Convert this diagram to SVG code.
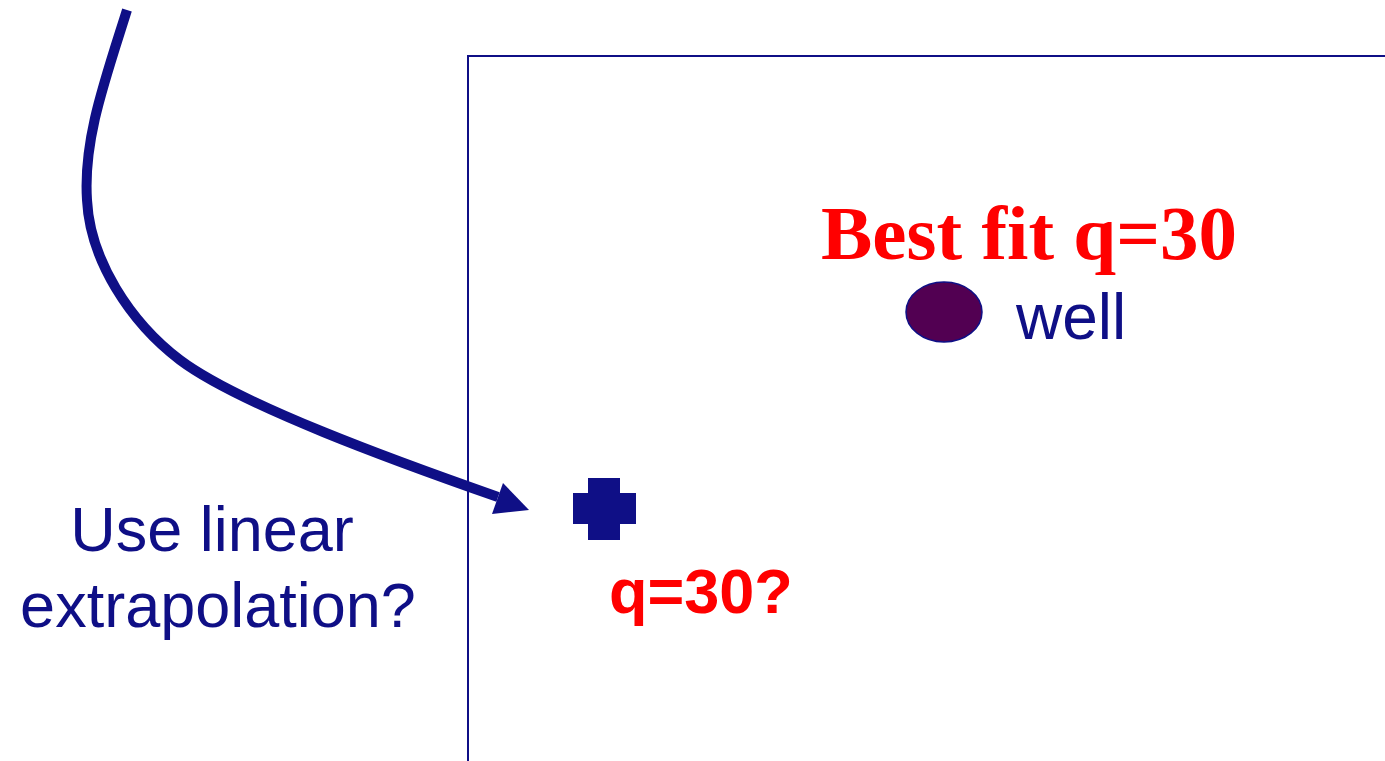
<svg xmlns="http://www.w3.org/2000/svg" width="1385" height="761" viewBox="0 0 1385 761">
<style>
.navy{fill:#0f0f86}
.sans{font-family:"Liberation Sans",Arial,sans-serif}
.serif{font-family:"Liberation Serif","Times New Roman",serif}
</style>
<rect width="1385" height="761" fill="#ffffff"/>
<g id="frame">
<path d="M468,761 V56 H1385" fill="none" stroke="#0f0f86" stroke-width="2"/>
</g>
<g id="connectors">
<path d="M127,10 C105,80 83,140 87,200 C90,260 130,322 180,360 C240,405 398,462 498,497" fill="none" stroke="#0f0f86" stroke-width="10"/>
<polygon class="navy" points="529,510 503,483 492,514"/>
</g>
<g id="label-extrapolation">
<text class="sans navy" font-size="63" text-anchor="middle" x="212" y="551">Use linear</text>
<text class="sans navy" font-size="63" text-anchor="middle" x="218" y="627">extrapolation?</text>
</g>
<g id="node-cross">
<path class="navy" d="M588,478 H620 V493 H636 V524 H620 V540 H588 V524 H573 V493 H588 Z"/>
<text class="sans" font-size="63" font-weight="bold" fill="#ff0000" x="609" y="613">q=30?</text>
</g>
<g id="node-well">
<ellipse cx="944" cy="312" rx="38" ry="30" fill="#520052" stroke="#0f0f86" stroke-width="1.5"/>
<text class="sans navy" font-size="64" x="1016" y="339">well</text>
</g>
<g id="label-bestfit">
<text class="serif" font-size="77" font-weight="bold" fill="#ff0000" x="821" y="259">Best fit q=30</text>
</g>
</svg>
